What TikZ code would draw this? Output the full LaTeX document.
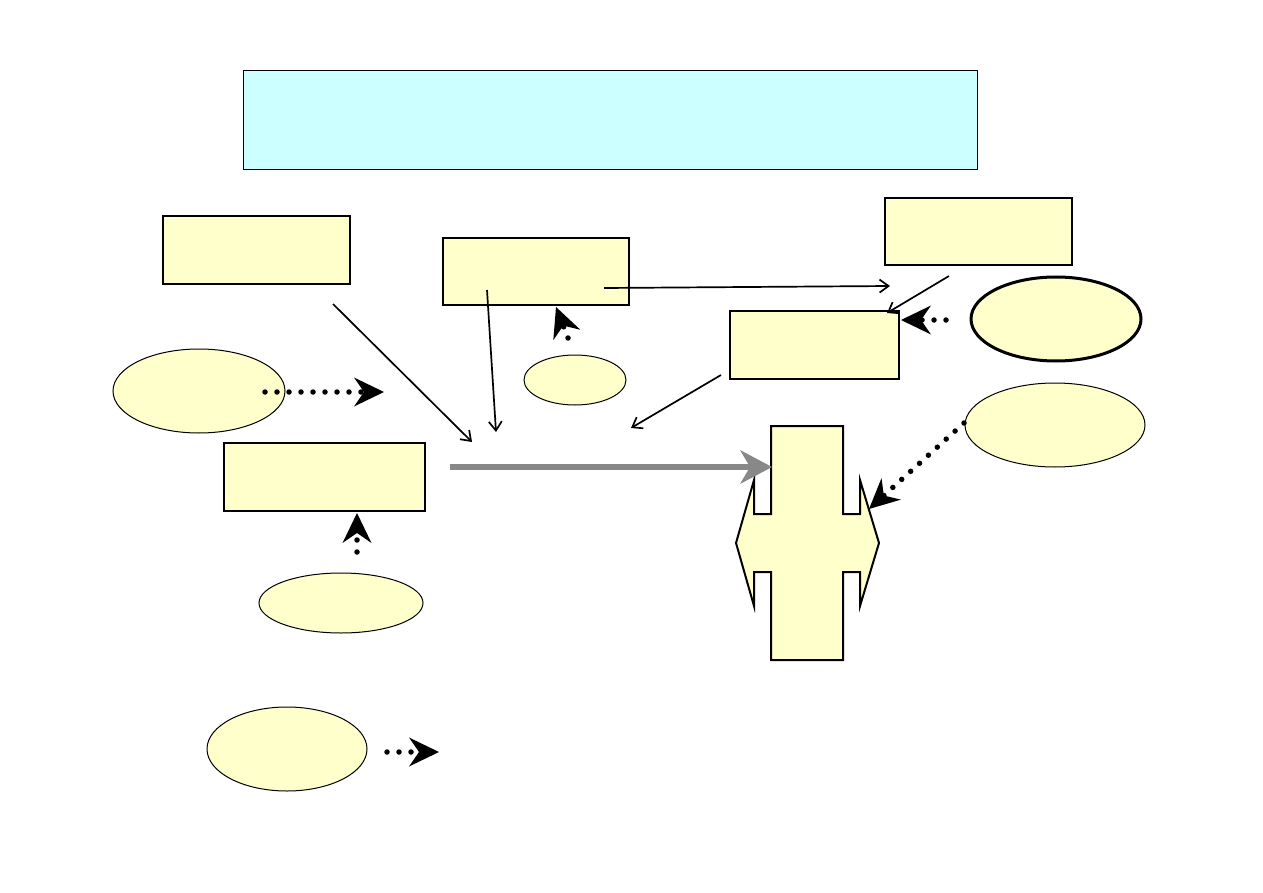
\documentclass[tikz,border=0pt]{standalone}
\usetikzlibrary{arrows.meta,shapes.geometric}
\definecolor{paleyellow}{HTML}{FFFFCC}
\definecolor{palecyan}{HTML}{CCFFFF}
\definecolor{arrowgray}{HTML}{888888}
\tikzset{
  stepbox/.style={draw=black,line width=2pt,fill=paleyellow,rectangle,inner sep=0pt},
  titlebox/.style={draw=black,line width=0.8pt,fill=palecyan,rectangle,inner sep=0pt},
  oval/.style={draw=black,line width=1pt,fill=paleyellow,ellipse,inner sep=0pt},
  thickoval/.style={draw=black,line width=3pt,fill=paleyellow,ellipse,inner sep=0pt},
  thinarrow/.style={line width=1.7pt,-{Straight Barb[length=9pt,width=13pt]}},
  dotarrow/.style={line width=5.5pt,line cap=round,dash pattern=on 0pt off 12pt,
     -{Stealth[length=30pt,width=29pt,inset=10pt,line width=0pt]}},
  grayarrow/.style={draw=arrowgray,line width=6pt,-{Stealth[length=32pt,width=34pt,inset=10pt,line width=0pt]}},
}
\begin{document}
\begin{tikzpicture}[x=1pt,y=-1pt]
\useasboundingbox (0,0) rectangle (1263,893);
% title
\node[titlebox,minimum width=734,minimum height=99] (title) at (610,119.5) {};
% boxes
\node[stepbox,minimum width=187,minimum height=68] (boxA) at (256.5,250) {};
\node[stepbox,minimum width=186,minimum height=67] (boxB) at (536,271.5) {};
\node[stepbox,minimum width=187,minimum height=67] (boxC) at (978.5,231.5) {};
\node[stepbox,minimum width=169,minimum height=68] (boxD) at (814.5,345) {};
\node[stepbox,minimum width=201,minimum height=68] (boxE) at (324.5,477) {};
% ovals
\node[oval,minimum width=172,minimum height=84] (ovA) at (199,391) {};
\node[oval,minimum width=102,minimum height=50] (ovB) at (575,380) {};
\node[thickoval,minimum width=170,minimum height=84] (ovC) at (1056,319) {};
\node[oval,minimum width=180,minimum height=84] (ovD) at (1055,425) {};
\node[oval,minimum width=164,minimum height=60] (ovE) at (341,603) {};
\node[oval,minimum width=160,minimum height=84] (ovF) at (287,749) {};
% cross shape
\draw[line width=2pt,fill=paleyellow,line join=miter]
  (771,426) -- (843,426) -- (843,514) -- (860,514) -- (860,480) -- (879,543)
  -- (860,606) -- (860,572) -- (843,572) -- (843,660) -- (771,660) -- (771,572)
  -- (754,572) -- (754,606) -- (736,543) -- (754,480) -- (754,514) -- (771,514) -- cycle;
\coordinate (cross) at (772,467);
% thin connector points
\coordinate (a1) at (333,304);
\coordinate (a2) at (472,442);
\coordinate (b1) at (487,290);
\coordinate (b2) at (496,432);
\coordinate (c1) at (604,288);
\coordinate (c2) at (890,286);
\coordinate (d1) at (949,276);
\coordinate (d2) at (887,313);
\coordinate (e1) at (721,375);
\coordinate (e2) at (631,428);
\draw[thinarrow] (a1) -- (a2);
\draw[thinarrow] (b1) -- (b2);
\draw[thinarrow] (c1) -- (c2);
\draw[thinarrow] (d1) -- (d2);
\draw[thinarrow] (e1) -- (e2);
% gray arrow
\coordinate (g1) at (450,467);
\draw[grayarrow] (g1) -- (cross);
% dotted arrows
\coordinate (p1) at (265,392);
\coordinate (p2) at (384,392);
\draw[dotarrow] (p1) -- (p2);
\coordinate (q1) at (568,338);
\coordinate (q2) at (556,307);
\draw[dotarrow] (q1) -- (q2);
\coordinate (r1) at (357,552);
\coordinate (r2) at (357,513);
\draw[dotarrow] (r1) -- (r2);
\coordinate (s1) at (946,320);
\coordinate (s2) at (901,320);
\draw[dotarrow] (s1) -- (s2);
\coordinate (t1) at (964,423);
\coordinate (t2) at (869,509);
\draw[dotarrow] (t1) -- (t2);
\coordinate (u1) at (387,752);
\coordinate (u2) at (439,752);
\draw[dotarrow] (u1) -- (u2);
\end{tikzpicture}
\end{document}
